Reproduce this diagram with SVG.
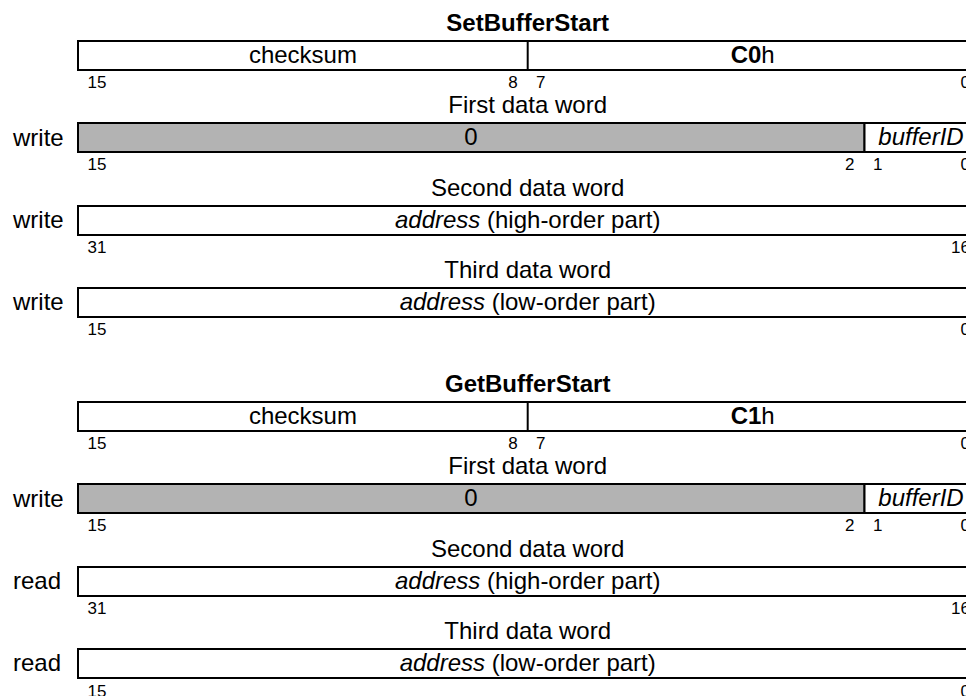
<svg xmlns="http://www.w3.org/2000/svg" width="966" height="696" viewBox="0 0 966 696">
<style>
text{font-family:"Liberation Sans",Arial,sans-serif;fill:#000}
.t{font-size:24px}
.c{text-anchor:middle}
.b{font-weight:bold}
.i{font-style:italic}
.n{font-size:17px}
.e{text-anchor:end}
.box{fill:#fff;stroke:#000;stroke-width:2}
.gray{fill:#b3b3b3;stroke:#000;stroke-width:2}
.div{stroke:#000;stroke-width:2}
</style>
<rect width="966" height="696" fill="#fff"/>
<g id="connectors"/>
<g id="setbufferstart">
  <text id="title-set" class="t c b" x="527.7" y="31">SetBufferStart</text>
  <g id="set-cmd">
    <rect class="box" x="78" y="41" width="899.5" height="29"/>
    <line class="div" x1="527.7" y1="41" x2="527.7" y2="70"/>
    <text class="t c" x="302.9" y="63">checksum</text>
    <text class="t c" x="752.7" y="63"><tspan class="b">C0</tspan>h</text>
    <text class="n" x="87.5" y="88">15</text>
    <text class="n e" x="517.7" y="88">8</text>
    <text class="n" x="536" y="88">7</text>
    <text class="n e" x="970" y="88">0</text>
  </g>
  <g id="set-word1">
    <text class="t c" x="527.7" y="113">First data word</text>
    <text class="t" x="13" y="146">write</text>
    <rect class="gray" x="78" y="123" width="786.5" height="29"/>
    <rect class="box" x="864.5" y="123" width="113" height="29"/>
    <text class="t c" x="471" y="145">0</text>
    <text class="t c i" x="921" y="145">bufferID</text>
    <text class="n" x="87.5" y="170">15</text>
    <text class="n e" x="854.5" y="170">2</text>
    <text class="n" x="873" y="170">1</text>
    <text class="n e" x="970" y="170">0</text>
  </g>
  <g id="set-word2">
    <text class="t c" x="527.7" y="196">Second data word</text>
    <text class="t" x="13" y="228">write</text>
    <rect class="box" x="78" y="206" width="899.5" height="29"/>
    <text class="t c" x="527.7" y="228"><tspan class="i">address</tspan> (high-order part)</text>
    <text class="n" x="87.5" y="253">31</text>
    <text class="n e" x="970" y="253">16</text>
  </g>
  <g id="set-word3">
    <text class="t c" x="527.7" y="278">Third data word</text>
    <text class="t" x="13" y="310">write</text>
    <rect class="box" x="78" y="288" width="899.5" height="29"/>
    <text class="t c" x="527.7" y="310"><tspan class="i">address</tspan> (low-order part)</text>
    <text class="n" x="87.5" y="335">15</text>
    <text class="n e" x="970" y="335">0</text>
  </g>
</g>
<g id="getbufferstart">
  <text id="title-get" class="t c b" x="527.7" y="392">GetBufferStart</text>
  <g id="get-cmd">
    <rect class="box" x="78" y="402" width="899.5" height="29"/>
    <line class="div" x1="527.7" y1="402" x2="527.7" y2="431"/>
    <text class="t c" x="302.9" y="424">checksum</text>
    <text class="t c" x="752.7" y="424"><tspan class="b">C1</tspan>h</text>
    <text class="n" x="87.5" y="449">15</text>
    <text class="n e" x="517.7" y="449">8</text>
    <text class="n" x="536" y="449">7</text>
    <text class="n e" x="970" y="449">0</text>
  </g>
  <g id="get-word1">
    <text class="t c" x="527.7" y="474">First data word</text>
    <text class="t" x="13" y="507">write</text>
    <rect class="gray" x="78" y="484" width="786.5" height="29"/>
    <rect class="box" x="864.5" y="484" width="113" height="29"/>
    <text class="t c" x="471" y="506">0</text>
    <text class="t c i" x="921" y="506">bufferID</text>
    <text class="n" x="87.5" y="531">15</text>
    <text class="n e" x="854.5" y="531">2</text>
    <text class="n" x="873" y="531">1</text>
    <text class="n e" x="970" y="531">0</text>
  </g>
  <g id="get-word2">
    <text class="t c" x="527.7" y="557">Second data word</text>
    <text class="t" x="13" y="589">read</text>
    <rect class="box" x="78" y="567" width="899.5" height="29"/>
    <text class="t c" x="527.7" y="589"><tspan class="i">address</tspan> (high-order part)</text>
    <text class="n" x="87.5" y="614">31</text>
    <text class="n e" x="970" y="614">16</text>
  </g>
  <g id="get-word3">
    <text class="t c" x="527.7" y="639">Third data word</text>
    <text class="t" x="13" y="671">read</text>
    <rect class="box" x="78" y="649" width="899.5" height="29"/>
    <text class="t c" x="527.7" y="671"><tspan class="i">address</tspan> (low-order part)</text>
    <text class="n" x="87.5" y="697">15</text>
    <text class="n e" x="970" y="697">0</text>
  </g>
</g>
</svg>
